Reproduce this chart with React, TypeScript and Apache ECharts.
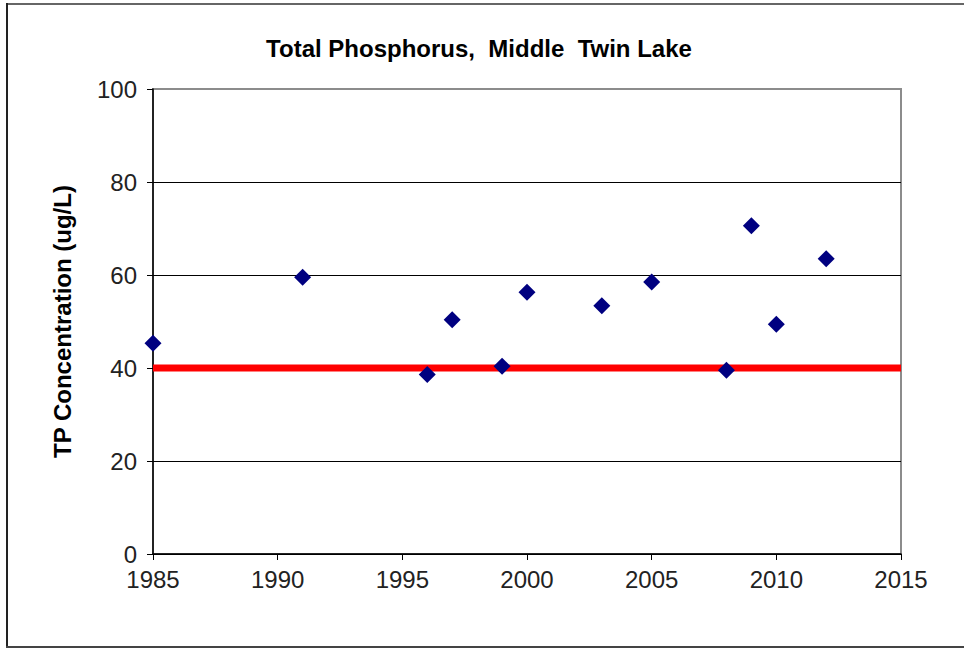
import React, { useEffect, useRef } from "react";
import * as echarts from "echarts";

const years = [1985, 1991, 1996, 1997, 1999, 2000, 2003, 2005, 2008, 2009, 2010, 2012];
const tpValues = [45.3, 59.5, 38.6, 50.4, 40.4, 56.3, 53.4, 58.5, 39.5, 70.6, 49.4, 63.5];
const standardYears = [1985, 2015];
const standardValue = 40;
const titleText = "Total Phosphorus,  Middle  Twin Lake";
const yAxisTitle = "TP Concentration (ug/L)";

const FONT = "'Liberation Sans', Arial, sans-serif";

export default function App() {
  const ref = useRef<HTMLDivElement>(null);
  useEffect(() => {
    if (!ref.current) return;
    const chart = echarts.init(ref.current, null, { renderer: "svg" });
    chart.setOption({
      animation: false,
      backgroundColor: "#ffffff",
      title: {
        text: titleText,
        left: 474,
        top: 31,
        textAlign: "center",
        textStyle: { fontFamily: FONT, fontSize: 24, fontWeight: "bold", color: "#000" },
      },
      grid: {
        left: 153,
        right: 63,
        top: 89,
        bottom: 95,
        show: true,
        borderColor: "#8c8c8c",
        borderWidth: 2,
        backgroundColor: "transparent",
      },
      xAxis: {
        type: "value",
        min: 1985,
        max: 2015,
        interval: 5,
        splitLine: { show: false },
        axisLine: { show: true, onZero: false, lineStyle: { color: "#000", width: 1.5 } },
        axisTick: { show: true, inside: false, length: 6, lineStyle: { color: "#000", width: 1 } },
        axisLabel: {
          margin: 13,
          color: "#222",
          fontFamily: FONT,
          fontSize: 24,
          formatter: (v: number) => String(v),
        },
      },
      yAxis: {
        type: "value",
        min: 0,
        max: 100,
        interval: 20,
        name: yAxisTitle,
        nameLocation: "middle",
        nameRotate: 90,
        nameGap: 79,
        nameTextStyle: { fontFamily: FONT, fontSize: 24, fontWeight: "bold", color: "#000" },
        axisLine: { show: true, lineStyle: { color: "#000", width: 1.5 } },
        axisTick: { show: true, inside: false, length: 6, lineStyle: { color: "#000", width: 1 } },
        axisLabel: { margin: 16, color: "#222", fontFamily: FONT, fontSize: 24 },
        splitLine: {
          show: true,
          lineStyle: {
            color: ["#000", "#000", "#000", "#000", "#000", "#8c8c8c"],
            width: 1,
          },
        },
      },
      series: [
        {
          type: "line",
          data: standardYears.map((y) => [y, standardValue]),
          symbol: "none",
          lineStyle: { color: "#ff0000", width: 7 },
          z: 2,
          silent: true,
        },
        {
          type: "scatter",
          data: years.map((y, i) => [y, tpValues[i]]),
          symbol: "diamond",
          symbolSize: 17,
          itemStyle: { color: "#000080", opacity: 1 },
          z: 3,
        },
      ],
      graphic: [
        { type: "line", shape: { x1: 6, y1: 4, x2: 964, y2: 4 }, style: { stroke: "#666", lineWidth: 2 } },
        { type: "line", shape: { x1: 7, y1: 3, x2: 7, y2: 647 }, style: { stroke: "#222", lineWidth: 2 } },
        { type: "line", shape: { x1: 6, y1: 647, x2: 964, y2: 647 }, style: { stroke: "#444", lineWidth: 2 } },
      ],
    });
    return () => chart.dispose();
  }, []);
  return (
    <div
      ref={ref}
      style={{ position: "absolute", left: 0, top: 0, width: 964, height: 649 }}
    />
  );
}
